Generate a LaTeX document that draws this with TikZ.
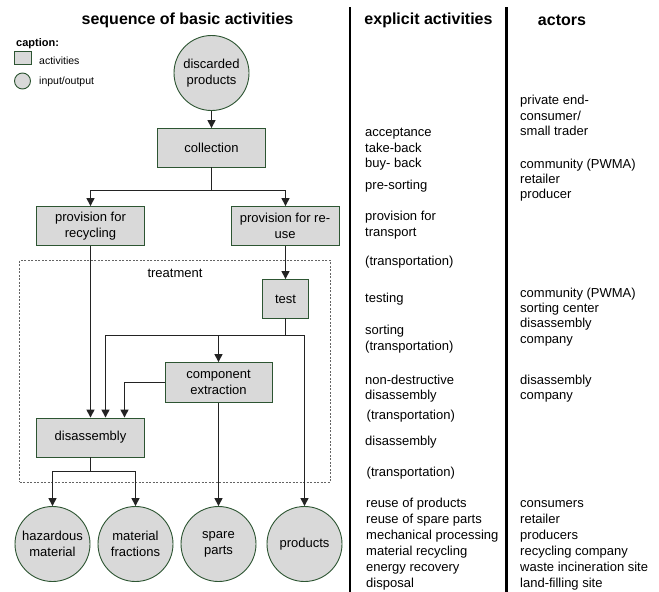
\documentclass[tikz,border=0pt]{standalone}
\usepackage{fontspec}
\setmainfont{Liberation Sans}
\usetikzlibrary{arrows.meta,calc}
\definecolor{boxgreen}{RGB}{45,85,50}
\definecolor{boxgray}{RGB}{217,217,217}
\definecolor{linegray}{RGB}{35,35,35}
\definecolor{dashgray}{RGB}{100,100,100}
\begin{document}
\begin{tikzpicture}[x=1pt,y=-1pt,
  act/.style={draw=boxgreen, fill=boxgray, line width=0.9pt, minimum width=108pt, minimum height=39pt, align=center, inner sep=1pt, font=\fontsize{13}{16}\selectfont},
  io/.style={circle, draw=boxgreen, fill=boxgray, line width=0.9pt, minimum size=75pt, align=center, inner sep=0pt, font=\fontsize{13}{16}\selectfont},
  conn/.style={draw=linegray, line width=1.4pt, -{Triangle[length=8pt,width=8pt]}},
  plainline/.style={draw=linegray, line width=1.4pt, line cap=rect},
  txt/.style={anchor=base west, inner sep=0pt, font=\fontsize{13}{16}\selectfont},
  head/.style={anchor=base, inner sep=0pt, font=\bfseries\fontsize{16}{19}\selectfont},
  small/.style={anchor=base west, inner sep=0pt, font=\fontsize{10.5}{12}\selectfont},
]
\useasboundingbox (0,0) rectangle (659,592);
\fill[white] (0,0) rectangle (659,592);

% headings
\node[head] (h1) at (187.5,24) {sequence of basic activities};
\node[head] (h2) at (428.5,24) {explicit activities};
\node[head] (h3) at (562,25) {actors};

% dividers
\draw[line width=2.6pt] (350,7) -- (350,592);
\draw[line width=2.6pt] (506.5,7) -- (506.5,592);

% legend
\node[anchor=base west, inner sep=0pt, font=\bfseries\fontsize{11}{13}\selectfont] (capt) at (16,46) {caption:};
\node[draw=boxgreen, fill=boxgray, line width=0.9pt, minimum width=17pt, minimum height=13pt, inner sep=0pt] (legbox) at (22.5,57.5) {};
\node[small] (legact) at (39,64) {activities};
\node[circle, draw=boxgreen, fill=boxgray, line width=0.9pt, minimum size=16pt, inner sep=0pt] (legcirc) at (22.5,81) {};
\node[small] (legio) at (39,84) {input/output};

% treatment frame
\node[draw=dashgray, line width=0.8pt, dash pattern=on 2pt off 1.5pt, minimum width=310.5pt, minimum height=222pt, inner sep=0pt] (treat) at (174.8,371) {};
\node[anchor=base, inner sep=0pt, font=\fontsize{13}{16}\selectfont] (treatlbl) at (175,277) {treatment};

% nodes
\node[io] (disc) at (211.5,73) {discarded\\products};
\node[act] (coll) at (211.5,148) {collection};
\node[act] (prec) at (90.5,226) {provision for\\recycling};
\node[act] (preu) at (285,226) {provision for re-\\use};
\node[act, minimum width=46pt] (test) at (285.5,299) {test};
\node[act, minimum width=107pt, minimum height=40pt] (comp) at (218.5,382.5) {component\\extraction};
\node[act] (disa) at (90.5,437.5) {disassembly};
\node[io] (haz) at (52.5,544) {hazardous\\material};
\node[io] (mat) at (135.5,544) {material\\fractions};
\node[io] (spare) at (218.5,544) {spare\\parts};
\node[io] (prod) at (304.5,544) {products};

% connectors
\coordinate (s1) at (211.5,190.5);
\coordinate (s1l) at (90.5,190.5);
\coordinate (s1r) at (285.5,190.5);
\coordinate (tj) at (285.5,335.5);
\coordinate (tl) at (105.5,335.5);
\coordinate (tm) at (218.5,335.5);
\coordinate (tr) at (304.5,335.5);
\coordinate (s2) at (90.5,471.5);
\coordinate (s2l) at (52.5,471.5);
\coordinate (s2r) at (135.5,471.5);
\coordinate (ck) at (124.5,382.5);
\draw[conn] (disc) -- (coll);
\draw[plainline] (coll.south) -- (s1);
\draw[plainline] (s1l) -- (s1r);
\draw[conn] (s1l) -- (prec.north);
\draw[conn] (s1r) -- (s1r |- preu.north);
\draw[conn] (s1r |- preu.south) -- (test.north);
\draw[conn] (prec.south) -- (disa.north);
\draw[plainline] (test.south) -- (tj);
\draw[plainline] (tl) -- (tr);
\draw[conn] (tl) -- (tl |- disa.north);
\draw[conn] (tm) -- (comp.north);
\draw[conn] (tr) -- (prod.north);
\draw[plainline] (comp.west) -- (ck);
\draw[conn] (ck) -- (ck |- disa.north);
\draw[conn] (comp.south) -- (spare.north);
\draw[plainline] (disa.south) -- (s2);
\draw[plainline] (s2l) -- (s2r);
\draw[conn] (s2l) -- (haz.north);
\draw[conn] (s2r) -- (mat.north);

% explicit activities
\node[txt] (e1) at (365,136) {acceptance};
\node[txt] (e2) at (365,152) {take-back};
\node[txt] (e3) at (365,167) {buy- back};
\node[txt] (e4) at (365,189) {pre-sorting};
\node[txt] (e5) at (365,220) {provision for};
\node[txt] (e6) at (365,236) {transport};
\node[txt] (e7) at (365,265) {(transportation)};
\node[txt] (e8) at (365,302) {testing};
\node[txt] (e9) at (365,334) {sorting};
\node[txt] (e10) at (365,350) {(transportation)};
\node[txt] (e11) at (365,384) {non-destructive};
\node[txt] (e12) at (365,399) {disassembly};
\node[txt] (e13) at (366.5,419) {(transportation)};
\node[txt] (e14) at (365,445) {disassembly};
\node[txt] (e15) at (366.5,476) {(transportation)};
\node[txt] (e16) at (366,507) {reuse of products};
\node[txt] (e17) at (366,523) {reuse of spare parts};
\node[txt] (e18) at (366,539) {mechanical processing};
\node[txt] (e19) at (366,555) {material recycling};
\node[txt] (e20) at (366,571) {energy recovery};
\node[txt] (e21) at (366,587) {disposal};

% actors
\node[txt] (a1) at (520,104) {private end-};
\node[txt] (a2) at (520,120) {consumer/};
\node[txt] (a3) at (520,135) {small trader};
\node[txt] (a4) at (520,168) {community (PWMA)};
\node[txt] (a5) at (520,183) {retailer};
\node[txt] (a6) at (520,198) {producer};
\node[txt] (a7) at (520,297) {community (PWMA)};
\node[txt] (a8) at (520,312) {sorting center};
\node[txt] (a9) at (520,327) {disassembly};
\node[txt] (a10) at (520,343) {company};
\node[txt] (a11) at (520,384) {disassembly};
\node[txt] (a12) at (520,399) {company};
\node[txt] (a13) at (520,507) {consumers};
\node[txt] (a14) at (520,523) {retailer};
\node[txt] (a15) at (520,539) {producers};
\node[txt] (a16) at (520,555) {recycling company};
\node[txt] (a17) at (520,571) {waste incineration site};
\node[txt] (a18) at (520,587) {land-filling site};
\end{tikzpicture}
\end{document}
